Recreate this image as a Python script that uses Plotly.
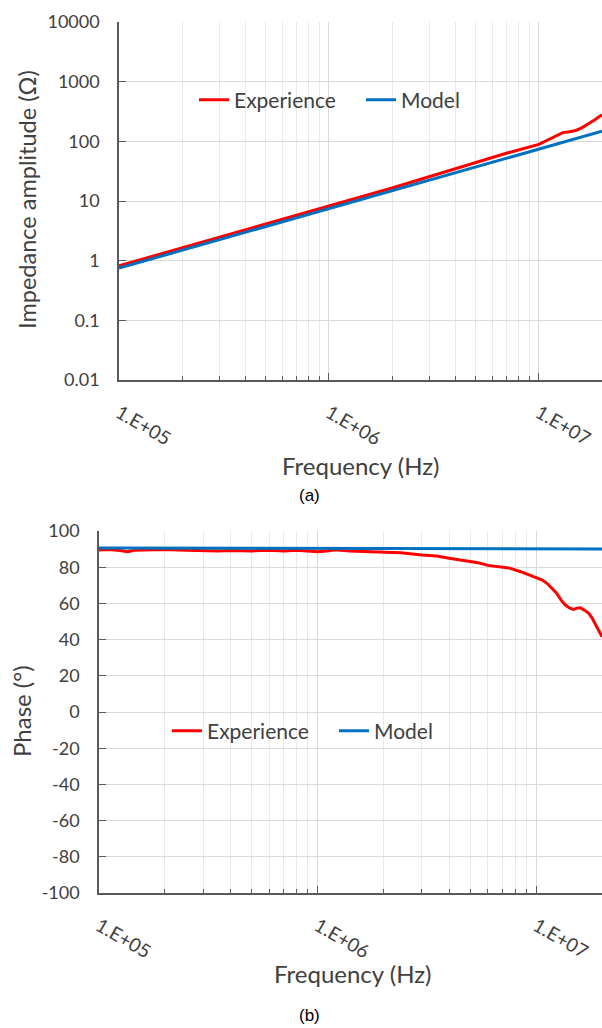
import plotly.graph_objects as go

# ---------------- data ----------------
freq_amp_exp = [1e5, 2e5, 5e5, 1e6, 2e6, 3e6, 5e6, 7e6, 1e7, 1.1e7, 1.2e7, 1.3e7,
                1.4e7, 1.5e7, 1.6e7, 1.7e7, 1.85e7, 2e7]
amp_exp = [0.82, 1.64, 4.1, 8.2, 16.5, 25.5, 44, 63, 89, 105, 125, 140,
           145, 152, 168, 190, 230, 280]

freq_amp_model = [1e5, 2e5, 5e5, 1e6, 2e6, 5e6, 1e7, 2e7]
amp_model = [0.75, 1.5, 3.75, 7.5, 15, 37.5, 75, 148]

freq_ph_exp = [1e5, 1.1e5, 1.25e5, 1.35e5, 1.45e5, 1.7e5, 2e5, 2.5e5, 3e5, 3.5e5,
               4e5, 5e5, 6e5, 7e5, 8e5, 9e5, 1e6, 1.1e6, 1.2e6, 1.4e6, 1.7e6,
               2e6, 2.4e6, 3e6, 3.5e6, 4e6, 4.5e6, 5e6, 5.5e6, 6e6, 6.8e6, 7.5e6,
               8.5e6, 9.3e6, 1e7, 1.06e7, 1.12e7, 1.18e7, 1.24e7, 1.3e7, 1.36e7,
               1.42e7, 1.48e7, 1.54e7, 1.59e7, 1.66e7, 1.74e7, 1.8e7, 1.86e7,
               1.93e7, 2e7]
ph_exp = [89.5, 89.8, 89.2, 88.5, 89.3, 89.6, 89.8, 89.3, 89.1, 88.9,
          89.2, 89.0, 89.3, 88.9, 89.4, 88.8, 88.6, 89.0, 89.6, 88.9, 88.6,
          88.4, 88.0, 86.8, 86.2, 85.0, 84.0, 83.2, 82.3, 81.0, 80.3, 79.6,
          77.5, 75.8, 74.4, 73.0, 71.1, 68.5, 65.6, 61.8, 59.1,
          57.5, 56.7, 57.4, 57.6, 56.3, 54.5, 52.0, 49.0,
          45.5, 41.6]

freq_ph_model = [1e5, 3e5, 1e6, 3e6, 1e7, 2e7]
ph_model = [90.6, 90.5, 90.4, 90.3, 90.2, 90.1]

x_tickvals = [1e5, 1e6, 1e7]
x_ticktext = ["1.E+05", "1.E+06", "1.E+07"]
amp_tickvals = [0.01, 0.1, 1, 10, 100, 1000, 10000]
amp_ticktext = ["0.01", "0.1", "1", "10", "100", "1000", "10000"]
ph_tickvals = [-100, -80, -60, -40, -20, 0, 20, 40, 60, 80, 100]
ph_ticktext = ["-100", "-80", "-60", "-40", "-20", "0", "20", "40", "60", "80", "100"]

RED = "#FF0000"
BLUE = "#0070C0"
TXT = "#404040"
AXIS = "#595959"
GRID = "#D9D9D9"
MINOR = "#E9E9E9"
FONT = "Lato"

W, H = 602, 1028


def px_x(x):
    return x / W


def px_y(y):
    return 1 - y / H


fig = go.Figure()
fig.add_trace(go.Scatter(x=freq_amp_exp, y=amp_exp, mode="lines", name="Experience",
                         line=dict(color=RED, width=3), xaxis="x", yaxis="y", legend="legend"))
fig.add_trace(go.Scatter(x=freq_amp_model, y=amp_model, mode="lines", name="Model",
                         line=dict(color=BLUE, width=3), xaxis="x", yaxis="y", legend="legend"))
fig.add_trace(go.Scatter(x=freq_ph_exp, y=ph_exp, mode="lines", name="Experience",
                         line=dict(color=RED, width=3), xaxis="x2", yaxis="y2", legend="legend2"))
fig.add_trace(go.Scatter(x=freq_ph_model, y=ph_model, mode="lines", name="Model",
                         line=dict(color=BLUE, width=3), xaxis="x2", yaxis="y2", legend="legend2"))

xcommon = dict(type="log", range=[5, 7.301], tickvals=x_tickvals, ticktext=x_ticktext,
               tickangle=30, tickfont=dict(family=FONT, size=19, color=TXT),
               showline=True, linecolor=AXIS, linewidth=1.5, mirror=False,
               showgrid=True, gridcolor=GRID, gridwidth=1,
               ticks="inside", ticklen=7, tickcolor=AXIS, tickwidth=1,
               ticklabelstandoff=13, automargin=False,
               minor=dict(dtick="D1", showgrid=True, gridcolor=MINOR, gridwidth=1,
                          ticks="inside", ticklen=4, tickcolor=AXIS, tickwidth=1),
               zeroline=False, fixedrange=True)

ycommon = dict(tickfont=dict(family=FONT, size=18, color=TXT),
               showline=True, linecolor=AXIS, linewidth=1.5,
               showgrid=True, gridcolor=GRID, gridwidth=1,
               ticks="inside", ticklen=7, tickcolor=AXIS,
               ticklabelstandoff=14, zeroline=False, automargin=False)

fig.update_layout(
    width=W, height=H,
    margin=dict(l=0, r=0, t=0, b=0, autoexpand=False),
    paper_bgcolor="white", plot_bgcolor="white",
    xaxis=dict(domain=[px_x(119), 1.0], anchor="y", **xcommon),
    yaxis=dict(domain=[px_y(380), px_y(22)], anchor="x", type="log", range=[-2, 4],
               tickvals=amp_tickvals, ticktext=amp_ticktext, **ycommon),
    xaxis2=dict(domain=[px_x(99), 1.0], anchor="y2", **xcommon),
    yaxis2=dict(domain=[px_y(893), px_y(531)], anchor="x2", range=[-100, 100],
                tickvals=ph_tickvals, ticktext=ph_ticktext, **ycommon),
    legend=dict(orientation="h", x=px_x(194), y=px_y(100), xanchor="left", yanchor="middle",
                font=dict(family=FONT, size=21, color=TXT), bgcolor="rgba(0,0,0,0)",
                entrywidth=122, itemclick=False),
    legend2=dict(orientation="h", x=px_x(167), y=px_y(731), xanchor="left", yanchor="middle",
                 font=dict(family=FONT, size=21, color=TXT), bgcolor="rgba(0,0,0,0)",
                 entrywidth=122, itemclick=False),
    showlegend=True,
)

annos = [
    dict(text="Impedance amplitude (Ω)", x=px_x(27), y=px_y(200), textangle=-90,
         font=dict(family=FONT, size=23.5, color=TXT)),
    dict(text="Frequency (Hz)", x=px_x(360), y=px_y(466),
         font=dict(family=FONT, size=24, color=TXT)),
    dict(text="(a)", x=px_x(309), y=px_y(495),
         font=dict(family="Liberation Sans", size=17, color="#000000")),
    dict(text="Phase (°)", x=px_x(21), y=px_y(711), textangle=-90,
         font=dict(family=FONT, size=24, color=TXT)),
    dict(text="Frequency (Hz)", x=px_x(352), y=px_y(973),
         font=dict(family=FONT, size=24, color=TXT)),
    dict(text="(b)", x=px_x(309), y=px_y(1015),
         font=dict(family="Liberation Sans", size=17, color="#000000")),
]
for a in annos:
    fig.add_annotation(xref="paper", yref="paper", showarrow=False,
                       xanchor="center", yanchor="middle", **a)

fig.write_html("out.html", config=dict(displayModeBar=False))
